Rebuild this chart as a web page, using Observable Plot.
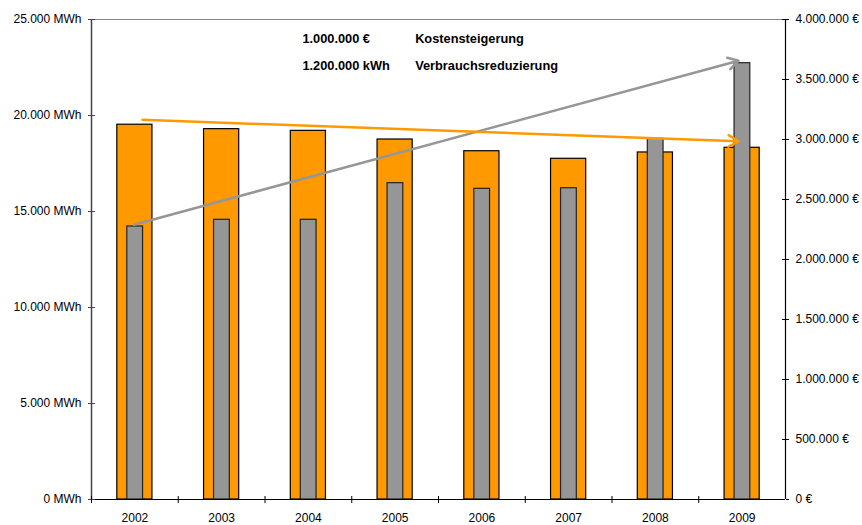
<!DOCTYPE html>
<html>
<head>
<meta charset="utf-8">
<script src="https://cdn.jsdelivr.net/npm/d3@7"></script>
<script src="https://cdn.jsdelivr.net/npm/@observablehq/plot@0.6"></script>
<style>
  body { margin: 0; background: #fff; }
  #chart { position: absolute; left: 0; top: 0; }
  svg { font-family: "Liberation Sans", Arial, sans-serif; }
</style>
</head>
<body>
<div id="chart"></div>
<script>
const years = ["2002", "2003", "2004", "2005", "2006", "2007", "2008", "2009"];
const consumptionMWh = [19520, 19290, 19200, 18750, 18140, 17745, 18075, 18320];
const costEUR = [2275000, 2331000, 2331000, 2636000, 2589000, 2594000, 3006000, 3636000];

const leftTicks = [0, 5000, 10000, 15000, 20000, 25000];
const rightTicksEUR = [0, 500000, 1000000, 1500000, 2000000, 2500000, 3000000, 3500000, 4000000];

// trend arrows (start/end values)
const consumptionTrend = [{x1: "2002", y1: 19790, x2: "2009", y2: 18650}];
const costTrendEUR = [{x1: "2002", y1: 2292000, x2: "2009", y2: 3664000}];

const valueNotes = [
  {x: "2004", y: 23995, text: "1.000.000 €"},
  {x: "2004", y: 22570, text: "1.200.000 kWh"}
];
const labelNotes = [
  {x: "2005", y: 23995, text: "Kostensteigerung"},
  {x: "2005", y: 22570, text: "Verbrauchsreduzierung"}
];

const ratio = 25000 / 4000000; // € -> MWh axis units
const de = d3.formatLocale({decimal: ",", thousands: ".", grouping: [3], currency: ["", " €"]});
const fmt = de.format(",.0f");

const data = years.map((y, i) => ({year: y, mwh: consumptionMWh[i], eur: costEUR[i], eurScaled: costEUR[i] * ratio}));

const W = 862, H = 525;
const mL = 91, mR = 77, mT = 19, mB = 26;
const plotW = W - mL - mR, plotH = H - mT - mB;
const bw = plotW / years.length;

const orange = "#FF9900";
const grey = "#969696";

const chart = Plot.plot({
  width: W, height: H,
  marginLeft: mL, marginRight: mR, marginTop: mT, marginBottom: mB,
  style: {fontSize: "12px", fontFamily: "'Liberation Sans', Arial, sans-serif", color: "#000", background: "#fff", overflow: "visible"},
  x: {type: "band", domain: years, padding: 0, round: false, label: null},
  y: {domain: [0, 25000], label: null},
  marks: [
    Plot.ruleY([25000], {stroke: "#888", strokeWidth: 1}),
    Plot.barY(data, {x: "year", y: "mwh", fill: orange, stroke: "#000", strokeWidth: 1.2, insetLeft: 25.8, insetRight: 25.8}),
    Plot.barY(data, {x: "year", y: "eurScaled", fill: grey, stroke: "#222", strokeWidth: 1.2, insetLeft: 35.8, insetRight: 35.2}),
    Plot.arrow(costTrendEUR, {x1: "x1", x2: "x2", y1: d => d.y1 * ratio, y2: d => d.y2 * ratio, stroke: grey, strokeWidth: 2.5, headLength: 7, insetStart: -1, insetEnd: 3.7}),
    Plot.arrow(consumptionTrend, {x1: "x1", x2: "x2", y1: "y1", y2: "y2", stroke: orange, strokeWidth: 2.5, headLength: 7, insetStart: 7.6, insetEnd: 3.6}),
    Plot.text(valueNotes, {x: "x", y: "y", text: "text", dx: -6, textAnchor: "start", fontWeight: "bold", fontSize: 12.8, fill: "#000"}),
    Plot.text(labelNotes, {x: "x", y: "y", text: "text", dx: 20, textAnchor: "start", fontWeight: "bold", fontSize: 12.8, fill: "#000"}),
    // axis lines
    Plot.ruleX([years[0]], {x: d => d, dx: -bw / 2, stroke: "#444", strokeWidth: 1.5}),
    Plot.ruleX([years[years.length - 1]], {x: d => d, dx: bw / 2, stroke: "#000", strokeWidth: 1.2}),
    Plot.ruleY([0], {stroke: "#000", strokeWidth: 1.2}),
    // inward tick halves
    Plot.ruleY(leftTicks, {stroke: "#444", insetRight: plotW - 4}),
    Plot.ruleY(rightTicksEUR.map(v => v * ratio), {stroke: "#000", insetLeft: plotW - 3}),
    Plot.axisY({anchor: "left", ticks: leftTicks, tickFormat: d => fmt(d) + " MWh", tickSize: 3, tickPadding: 7, stroke: "#444", fill: "#000", fontSize: 12}),
    Plot.axisY({anchor: "right", ticks: rightTicksEUR.map(v => v * ratio), tickFormat: d => fmt(Math.round(d / ratio)) + " €", tickSize: 3, tickPadding: 7, stroke: "#000", fill: "#000", fontSize: 12}),
    Plot.axisX({anchor: "bottom", tickSize: 0, tickPadding: 14, fill: "#000", fontSize: 12}),
    Plot.ruleX(years, {x: d => d, dx: -bw / 2, stroke: "#000", insetTop: plotH - 3, insetBottom: -4})
  ]
});

document.getElementById("chart").appendChild(chart);
</script>
</body>
</html>
